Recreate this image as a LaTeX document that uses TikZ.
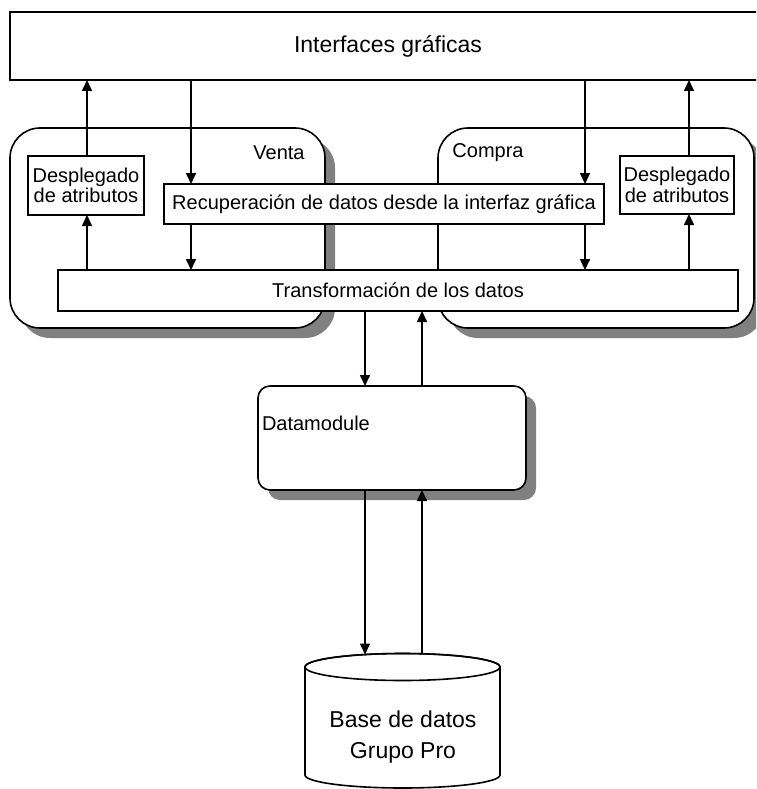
\documentclass[tikz,border=0pt]{standalone}
\usepackage{fontspec}
\setmainfont{Liberation Sans}
\usetikzlibrary{arrows.meta,shadows}
\begin{document}
\begin{tikzpicture}[x=1pt,y=-1pt,
  line width=1.6pt,
  font=\fontsize{20}{21}\selectfont,
  every node/.style={inner sep=0pt, outer sep=0pt},
  box/.style={draw, fill=white, rectangle},
  module/.style={draw, fill=white, rectangle, rounded corners=#1,
    drop shadow={shadow xshift=10pt, shadow yshift=-10pt, fill=black!50, opacity=1}},
  arr/.style={-{Triangle[length=11pt,width=10pt]}},
  tag/.style={font=\fontsize{20}{21}\selectfont},
]
\useasboundingbox (0,0) rectangle (756,789);
\clip (0,0) rectangle (756,789);

% graphical interface layer (runs past the right margin)
\node[box, minimum width=756pt, minimum height=68pt,
      font=\fontsize{23}{25}\selectfont] (gui) at (388,46) {Interfaces gráficas};

% sales and purchase modules
\node[module=30pt, minimum width=315pt, minimum height=200pt] (venta) at (167.5,228) {};
\node[module=30pt, minimum width=316pt, minimum height=200pt] (compra) at (596,228) {};
\node[tag] (ventalbl) at (279,153) {Venta};
\node[tag] (compralbl) at (488,153) {Compra};

% inner processing blocks
\node[box, minimum width=116pt, minimum height=59pt, align=center,
      font=\fontsize{20}{20.5}\selectfont] (desp1) at (86,185.5) {Desplegado\\de atributos};
\node[box, minimum width=114pt, minimum height=58pt, align=center,
      font=\fontsize{20}{20.5}\selectfont] (desp2) at (677,185) {Desplegado\\de atributos};
\node[box, minimum width=440pt, minimum height=40pt] (recup) at (384,204)
      {Recuperación de datos desde la interfaz gráfica};
\node[box, minimum width=680pt, minimum height=41pt] (trans) at (398,290.5)
      {Transformación de los datos};

% data module
\node[module=12pt, minimum width=268pt, minimum height=104pt] (dm) at (392,438) {};
\node[tag, anchor=west] (dmlbl) at (262,423) {Datamodule};

% database cylinder
\path[draw, fill=white] (305,667) -- (305,775)
  arc[start angle=180, end angle=0, x radius=97.5, y radius=13]
  -- (500,667)
  arc[start angle=0, end angle=-180, x radius=97.5, y radius=13.5] -- cycle;
\draw (402.5,667) ellipse[x radius=97.5, y radius=13.5];
\node[align=center, font=\fontsize{23}{31}\selectfont] (db) at (403,737) {Base de datos\\Grupo Pro};
\coordinate (dbin) at (365,654.5);
\coordinate (dbout) at (422,653.8);

% vertical guide positions of the connectors
\coordinate (xa) at (87,0);
\coordinate (xb) at (191,0);
\coordinate (xc) at (585,0);
\coordinate (xd) at (689,0);
\coordinate (xe) at (365,0);
\coordinate (xf) at (422,0);

% connectors
\draw[arr] (desp1.north -| xa) -- (gui.south -| xa);
\draw[arr] (trans.north -| xa) -- (desp1.south -| xa);
\draw[arr] (gui.south -| xb) -- (recup.north -| xb);
\draw[arr] (recup.south -| xb) -- (trans.north -| xb);
\draw[arr] (gui.south -| xc) -- (recup.north -| xc);
\draw[arr] (recup.south -| xc) -- (trans.north -| xc);
\draw[arr] (desp2.north -| xd) -- (gui.south -| xd);
\draw[arr] (trans.north -| xd) -- (desp2.south -| xd);
\draw[arr] (trans.south -| xe) -- (dm.north -| xe);
\draw[arr] (dm.north -| xf) -- (trans.south -| xf);
\draw[arr] (dm.south -| dbin) -- (dbin);
\draw[arr] (dbout) -- (dm.south -| dbout);
\end{tikzpicture}
\end{document}
